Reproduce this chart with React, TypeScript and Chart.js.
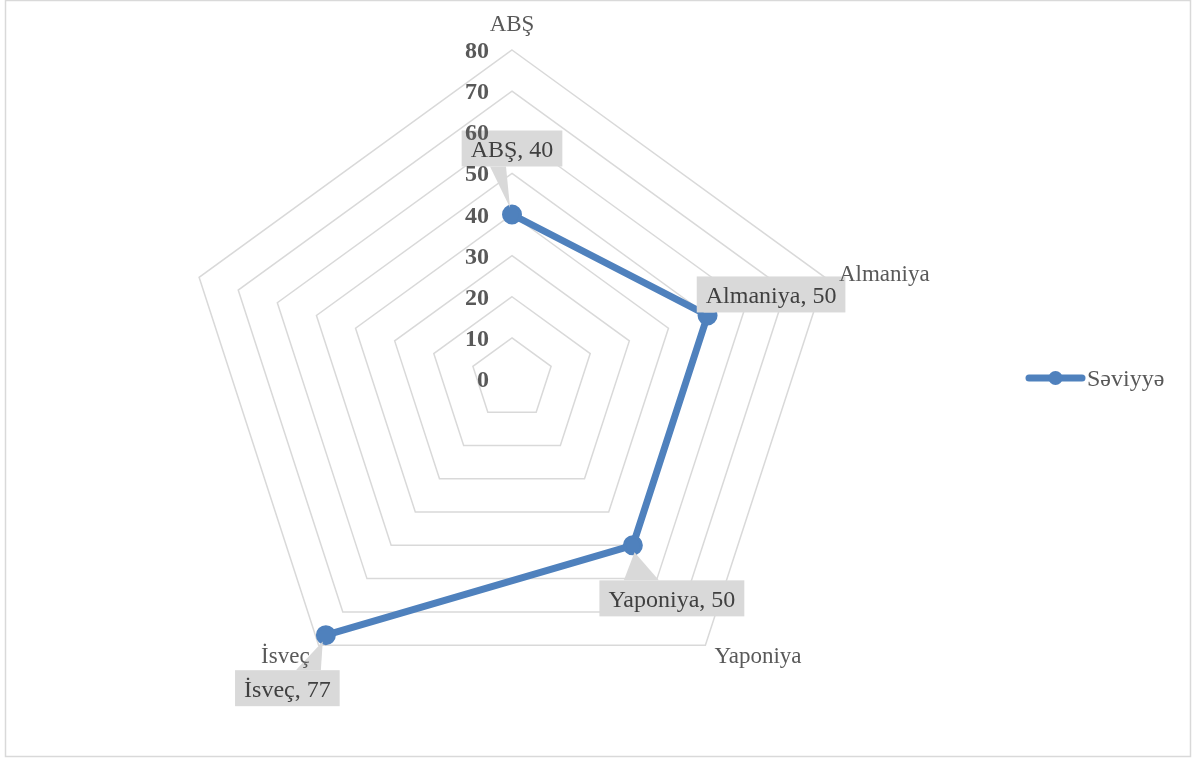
import React, { useEffect, useRef } from "react";
import { Chart, registerables } from "chart.js";

Chart.register(...registerables);

// ---- data ----
const categories = ["ABŞ", "Almaniya", "Yaponiya", "İsveç", ""];
const seriesName = "Səviyyə";
const values: (number | null)[] = [40, 50, 50, 77, null];
const tickMin = 0;
const tickMax = 80;
const tickStep = 10;

// ---- styling / layout (not data) ----
const BLUE = "#4F81BD";
const GRID = "#d9d9d9";
const FONT = "'Liberation Serif', 'Times New Roman', serif";
const LABEL_BOX = "#d9d9d9";
const TEXT_DARK = "#404040";
const TEXT_GRAY = "#595959";

// data label callouts: box centre offset from point, edge of pointer base, base span rel. to box centre
const calloutLayout = [
  { dx: 0, dy: -66, edge: "bottom", b1: -22, b2: -6 },
  { dx: 63.5, dy: -21, edge: "bottom", b1: -68, b2: -56 },
  { dx: 39, dy: 53, edge: "top", b1: -48, b2: -13 },
  { dx: -38.5, dy: 53, edge: "top", b1: 8.5, b2: 33.5 },
];

// category label anchors relative to the outer vertex
const pointLabelLayout = [
  { align: "center", dx: 0, dy: -19 },
  { align: "left", dx: 14, dy: 4 },
  { align: "left", dx: 9, dy: 18 },
  { align: "right", dx: -9, dy: 18 },
  { align: "left", dx: 0, dy: 0 },
];

const decor = {
  id: "decor",
  beforeDraw(chart: any) {
    const ctx = chart.ctx;
    ctx.save();
    ctx.fillStyle = "#ffffff";
    ctx.fillRect(0, 0, chart.width, chart.height);
    ctx.strokeStyle = GRID;
    ctx.lineWidth = 1.5;
    ctx.strokeRect(5.5, 0.5, 1185, 756);
    ctx.restore();
  },
  afterDatasetsDraw(chart: any) {
    const ctx = chart.ctx;
    const meta = chart.getDatasetMeta(0);
    ctx.save();
    ctx.font = `24px ${FONT}`;
    values.forEach((v, i) => {
      if (v === null || v === undefined) return;
      const lay = calloutLayout[i];
      if (!lay) return;
      const pt = meta.data[i];
      const text = `${categories[i]}, ${v}`;
      const tw = ctx.measureText(text).width;
      const w = tw + 18;
      const h = 36;
      const cx = pt.x + lay.dx;
      const cy = pt.y + lay.dy;
      const left = cx - w / 2;
      const top = cy - h / 2;
      const ey = lay.edge === "bottom" ? top + h : top;
      const bx1 = cx + lay.b1;
      const bx2 = cx + lay.b2;
      const bmx = (bx1 + bx2) / 2;
      const ddx = bmx - pt.x;
      const ddy = ey - pt.y;
      const len = Math.hypot(ddx, ddy) || 1;
      const tipx = pt.x + (ddx / len) * 7;
      const tipy = pt.y + (ddy / len) * 7;
      ctx.fillStyle = LABEL_BOX;
      ctx.beginPath();
      ctx.moveTo(bx1, ey);
      ctx.lineTo(tipx, tipy);
      ctx.lineTo(bx2, ey);
      ctx.closePath();
      ctx.fill();
      ctx.fillRect(left, top, w, h);
      ctx.fillStyle = TEXT_DARK;
      ctx.textAlign = "center";
      ctx.textBaseline = "alphabetic";
      ctx.fillText(text, cx, cy + 8.5);
    });
    ctx.restore();
  },
  afterDraw(chart: any) {
    const ctx = chart.ctx;
    const scale = chart.scales.r;
    ctx.save();
    // tick labels
    ctx.font = `bold 24px ${FONT}`;
    ctx.fillStyle = TEXT_GRAY;
    ctx.textAlign = "right";
    ctx.textBaseline = "alphabetic";
    for (let v = tickMin; v <= tickMax; v += tickStep) {
      const y = scale.yCenter - scale.getDistanceFromCenterForValue(v);
      ctx.fillText(String(v), scale.xCenter - 23, y + 8);
    }
    // category labels
    ctx.font = `23px ${FONT}`;
    categories.forEach((c, i) => {
      if (!c) return;
      const p = scale.getPointPosition(i, scale.drawingArea);
      const lay = pointLabelLayout[i];
      ctx.textAlign = lay.align;
      ctx.fillText(c, p.x + lay.dx, p.y + lay.dy);
    });
    // legend
    const ly = 378;
    ctx.strokeStyle = BLUE;
    ctx.lineWidth = 7;
    ctx.lineCap = "round";
    ctx.beginPath();
    ctx.moveTo(1029, ly);
    ctx.lineTo(1082, ly);
    ctx.stroke();
    ctx.fillStyle = BLUE;
    ctx.beginPath();
    ctx.arc(1055.5, ly, 7, 0, Math.PI * 2);
    ctx.fill();
    ctx.fillStyle = TEXT_GRAY;
    ctx.textAlign = "left";
    ctx.font = `24px ${FONT}`;
    ctx.fillText(seriesName, 1087, ly + 8);
    ctx.restore();
  },
};

export default function App() {
  const ref = useRef<HTMLCanvasElement>(null);
  useEffect(() => {
    const canvas = ref.current;
    if (!canvas) return;
    const chart = new Chart(canvas, {
      type: "radar",
      data: {
        labels: categories,
        datasets: [
          {
            label: seriesName,
            data: values,
            borderColor: BLUE,
            backgroundColor: BLUE,
            borderWidth: 7,
            pointRadius: 8.5,
            pointBorderWidth: 3,
            pointBackgroundColor: BLUE,
            pointBorderColor: BLUE,
            fill: false,
            spanGaps: false,
            borderJoinStyle: "round",
            borderCapStyle: "round",
            tension: 0,
          } as any,
        ],
      },
      options: {
        responsive: false,
        animation: false,
        devicePixelRatio: 1,
        layout: { padding: { left: 183, right: 355, top: 50, bottom: 51 } },
        plugins: { legend: { display: false }, tooltip: { enabled: false } },
        scales: {
          r: {
            min: tickMin,
            max: tickMax,
            ticks: { stepSize: tickStep, display: false },
            grid: { color: GRID, lineWidth: 1.5 },
            angleLines: { display: false },
            pointLabels: { display: false },
          },
        },
      } as any,
      plugins: [decor],
    });
    return () => chart.destroy();
  }, []);
  return (
    <div style={{ position: "fixed", left: 0, top: 0, width: 1196, height: 759, background: "#fff" }}>
      <canvas ref={ref} width={1196} height={759} style={{ display: "block" }} />
    </div>
  );
}
